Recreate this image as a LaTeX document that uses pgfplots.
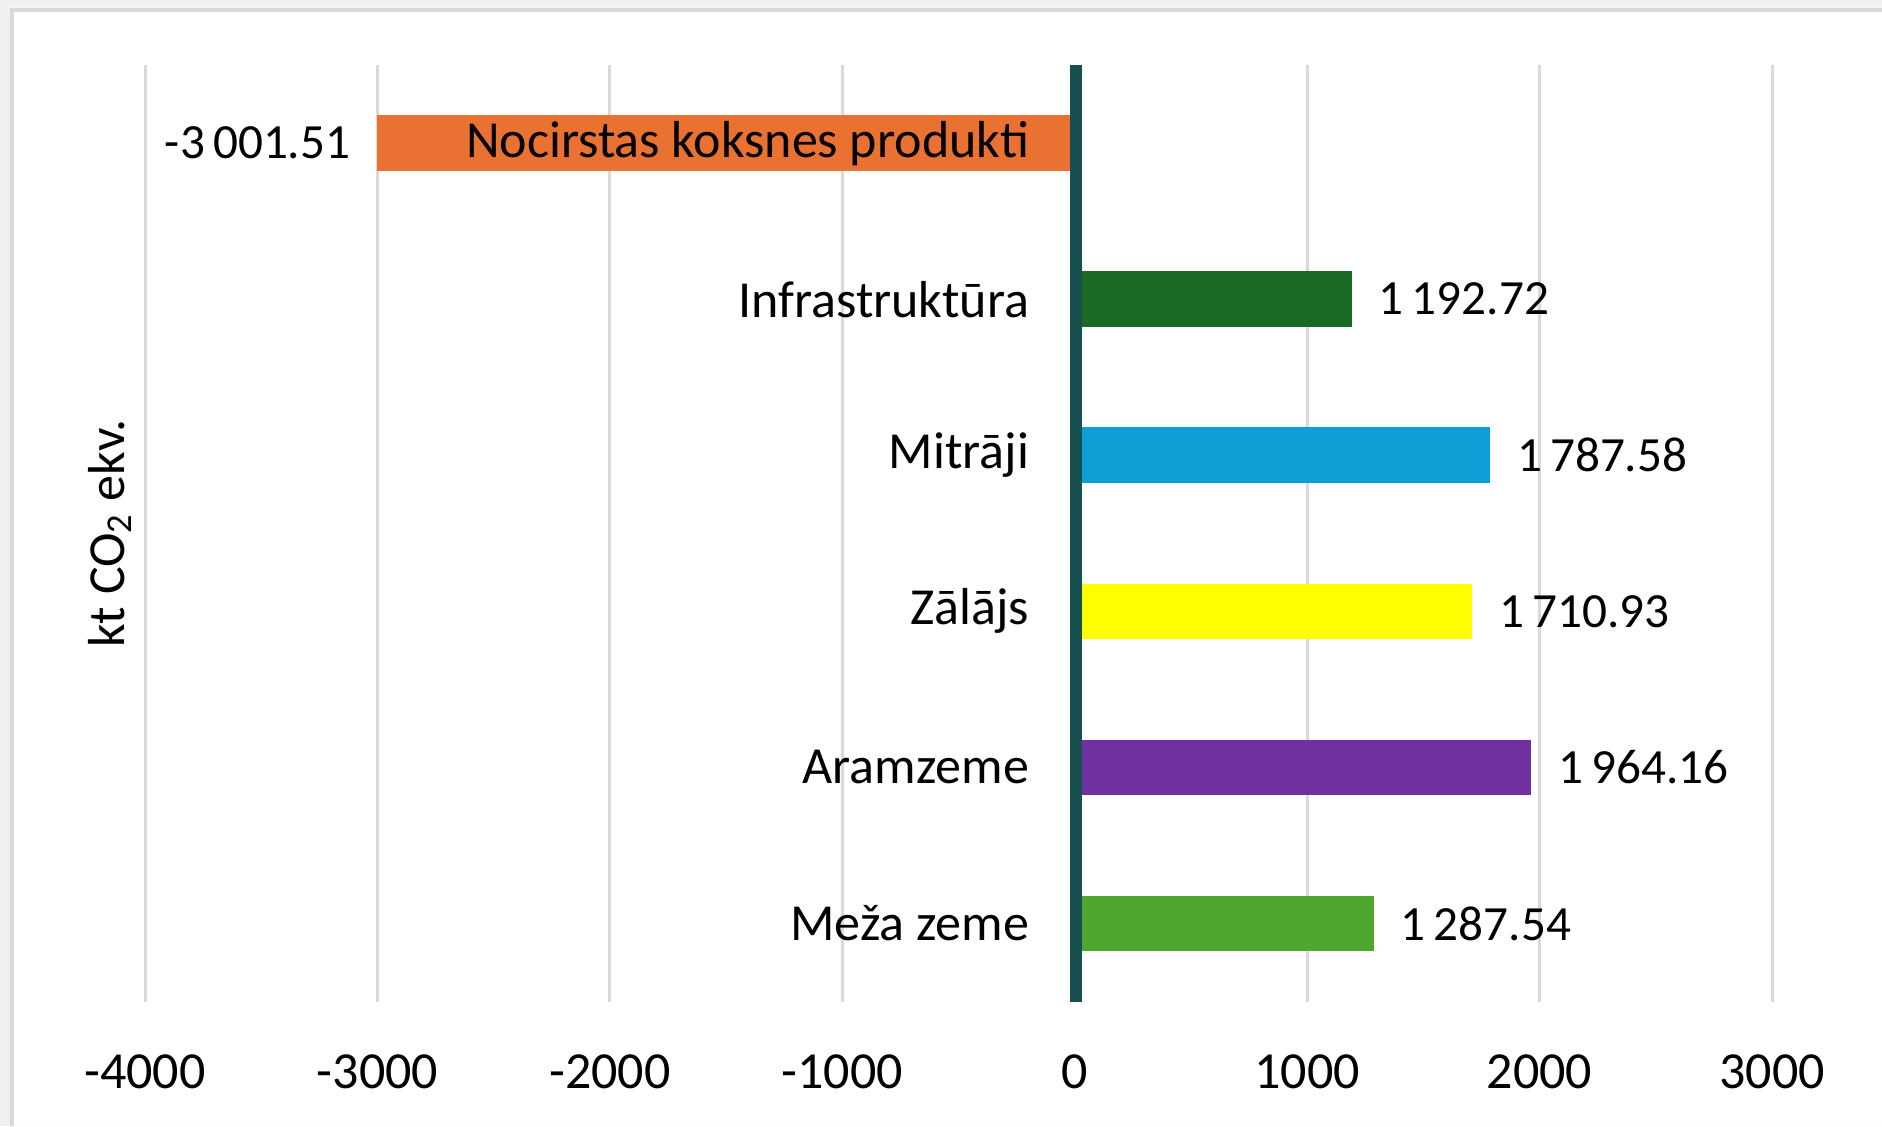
\documentclass[border=0pt]{standalone}
\usepackage{fontspec}
\setmainfont{Carlito}
\usepackage{pgfplots}
\pgfplotsset{compat=1.18}
\definecolor{cOrange}{HTML}{E97132}
\definecolor{cDkGreen}{HTML}{196B24}
\definecolor{cBlue}{HTML}{0F9ED5}
\definecolor{cYellow}{HTML}{FFFF00}
\definecolor{cPurple}{HTML}{7030A0}
\definecolor{cGreen}{HTML}{4EA72E}
\definecolor{cZero}{HTML}{185050}
\definecolor{cGrid}{HTML}{D9D9D9}
\definecolor{cOuter}{HTML}{F0F0F0}
\begin{document}
\fontsize{13pt}{15pt}\selectfont
\begin{tikzpicture}
\begin{axis}[
  set layers=standard,
  at={(36.25pt,31.125pt)}, anchor=south west,
  scale only axis,
  width=406.75pt, height=234.1pt,
  xbar, bar width=13.9pt, bar shift=0pt,
  xmin=-4000, xmax=3000,
  ymin=-0.5, ymax=5.5,
  xtick={-4000,-3000,-2000,-1000,0,1000,2000,3000},
  xticklabels={-4000,-3000,-2000,-1000,0,1000,2000,3000},
  ytick={0,1,2,3,4,5},
  yticklabels={Meža zeme,Aramzeme,Zālājs,Mitrāji,Infrastruktūra,Nocirstas koksnes produkti},
  xmajorgrids,
  grid style={draw=cGrid, line width=0.75pt},
  axis line style={draw=none},
  major tick length=0pt,
  tick style={draw=none},
  xticklabel style={anchor=north, inner sep=0pt, yshift=-13pt, font=\fontsize{13pt}{15pt}\selectfont},
  yticklabel style={anchor=east, inner sep=0pt, xshift=221.2pt, font=\fontsize{13pt}{15pt}\selectfont, /pgfplots/on layer=axis foreground},
  ylabel={kt CO\textsubscript{2} ekv.},
  ylabel style={at={(axis description cs:-0.0215,0.5)}, anchor=center, inner sep=0pt, font=\fontsize{13pt}{15pt}\selectfont},
  point meta=explicit symbolic,
  nodes near coords,
  nodes near coords style={font=\fontsize{12.3pt}{14pt}\selectfont, inner sep=0pt, text=black},
]
\addplot[fill=cOrange, draw=none, nodes near coords style={anchor=east, xshift=-6.5pt}] coordinates {(-3001.51,5) [-3\,001.51]};
\addplot[fill=cDkGreen, draw=none, nodes near coords style={anchor=west, xshift=6.5pt}] coordinates {(1192.72,4) [1\,192.72]};
\addplot[fill=cBlue, draw=none, nodes near coords style={anchor=west, xshift=6.5pt}] coordinates {(1787.58,3) [1\,787.58]};
\addplot[fill=cYellow, draw=none, nodes near coords style={anchor=west, xshift=6.5pt}] coordinates {(1710.93,2) [1\,710.93]};
\addplot[fill=cPurple, draw=none, nodes near coords style={anchor=west, xshift=6.5pt}] coordinates {(1964.16,1) [1\,964.16]};
\addplot[fill=cGreen, draw=none, nodes near coords style={anchor=west, xshift=6.5pt}] coordinates {(1287.54,0) [1\,287.54]};
\draw[cZero, line width=3pt, xshift=0.4pt] (axis cs:0,-0.583) -- (axis cs:0,5.526);
\end{axis}
\fill[cOuter, even odd rule] (0pt,0pt) rectangle (470.5pt,281.5pt) (2.5pt,0pt) rectangle (470.5pt,279.6pt);
\draw[cGrid, line width=1pt] (3pt,0pt) -- (3pt,279.1pt) -- (470.5pt,279.1pt);
\pgfresetboundingbox
\useasboundingbox (0pt,0pt) rectangle (470.5pt,281.5pt);
\end{tikzpicture}
\end{document}
